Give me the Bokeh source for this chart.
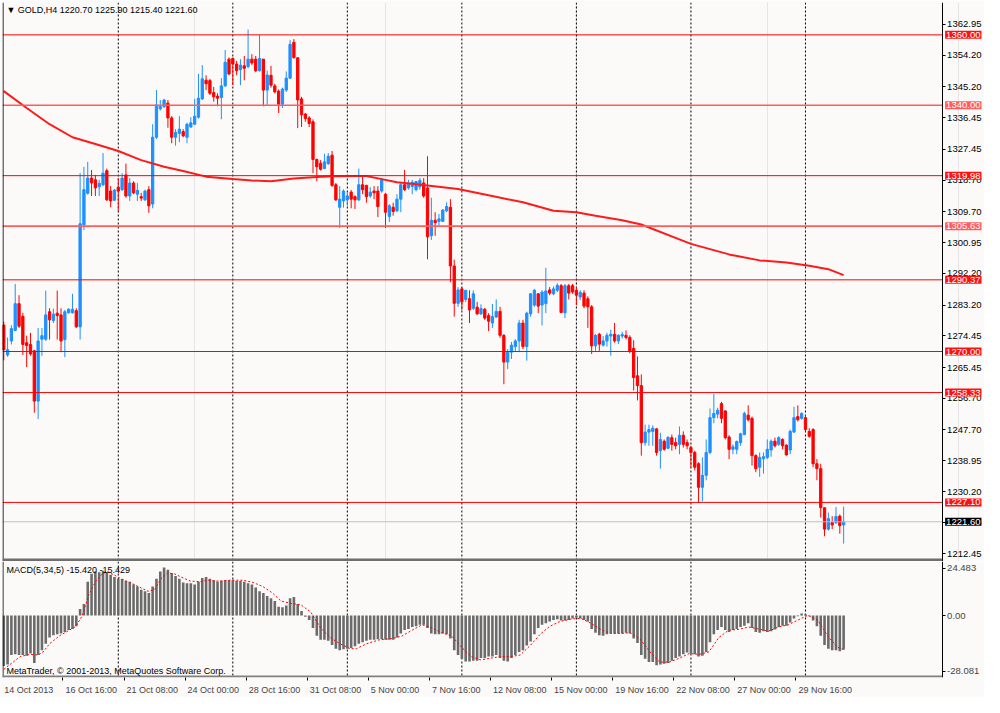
from bokeh.plotting import figure
from bokeh.layouts import column
from bokeh.models import (Range1d, FixedTicker, PrintfTickFormatter, Span, Label,
                          BoxAnnotation, ColumnDataSource, CustomJSTickFormatter, AllLabels)
from bokeh.embed import file_html
from bokeh.resources import INLINE

# ---------------- data ----------------
header_text = "\u25bc GOLD,H4  1220.70 1225.90 1215.40 1221.60"
macd_text = "MACD(5,34,5) -15.420 -15.429"
copyright_text = "MetaTrader, \u00a9 2001-2013, MetaQuotes Software Corp."

opens = [
    1277.5, 1269.0, 1273.0, 1276.0, 1283.6, 1280.0, 1272.5, 1272.0, 1270.2, 1255.9,
    1273.5, 1273.5, 1281.3, 1278.8, 1280.9, 1280.4, 1273.4, 1281.0, 1281.0, 1281.6,
    1277.0, 1306.0, 1315.0, 1319.3, 1318.8, 1316.8, 1317.4, 1321.4, 1315.6, 1313.0,
    1316.7, 1316.0, 1320.2, 1314.2, 1317.9, 1314.7, 1314.0, 1313.1, 1316.0, 1311.9,
    1330.9, 1339.0, 1339.6, 1340.6, 1336.4, 1330.9, 1332.0, 1332.5, 1330.9, 1333.8,
    1334.6, 1336.6, 1341.8, 1347.1, 1347.0, 1343.6, 1342.6, 1342.2, 1345.5, 1353.1,
    1353.3, 1351.7, 1350.1, 1351.2, 1351.0, 1353.1, 1353.1, 1349.8, 1353.1, 1344.3,
    1348.5, 1345.5, 1344.0, 1340.3, 1344.3, 1347.7, 1357.9, 1353.5, 1341.8, 1337.5,
    1336.4, 1335.3, 1324.6, 1323.5, 1322.0, 1323.4, 1325.8, 1317.4, 1311.0, 1312.8,
    1313.1, 1315.3, 1314.0, 1313.1, 1317.4, 1317.2, 1314.2, 1315.6, 1315.6, 1315.6,
    1314.7, 1308.4, 1311.0, 1310.0, 1313.3, 1317.4, 1316.5, 1316.9, 1316.0, 1316.8,
    1317.9, 1316.5, 1302.9, 1307.3, 1307.0, 1307.0, 1310.0, 1311.0, 1294.3, 1283.7,
    1287.8, 1284.8, 1285.0, 1282.3, 1282.6, 1280.7, 1282.0, 1280.2, 1278.1, 1279.8,
    1281.4, 1274.6, 1267.0, 1269.8, 1271.4, 1273.0, 1278.1, 1271.4, 1280.7, 1283.2,
    1286.4, 1283.2, 1283.6, 1287.5, 1286.4, 1287.4, 1288.7, 1281.0, 1288.7, 1288.7,
    1287.4, 1285.5, 1286.6, 1285.0, 1282.7, 1271.6, 1274.9, 1271.8, 1273.0, 1274.4,
    1274.9, 1273.0, 1274.4, 1274.6, 1274.0, 1270.9, 1263.1, 1260.3, 1244.1, 1247.1,
    1247.3, 1248.0, 1241.8, 1244.5, 1242.5, 1245.5, 1244.1, 1243.6, 1246.2, 1244.1,
    1242.7, 1241.3, 1238.1, 1231.4, 1234.8, 1241.3, 1251.2, 1252.2, 1255.2, 1253.1,
    1245.7, 1242.2, 1242.2, 1244.1, 1246.4, 1251.9, 1251.0, 1240.4, 1237.1, 1239.5,
    1239.9, 1242.0, 1244.5, 1243.6, 1245.0, 1243.4, 1242.0, 1247.1, 1251.5, 1251.0,
    1251.2, 1247.3, 1247.8, 1238.1, 1236.7, 1225.6, 1219.5, 1221.4, 1221.3, 1223.2, 1220.7,
]
highs = [
    1278.5, 1274.0, 1277.5, 1289.2, 1286.0, 1281.0, 1274.5, 1275.3, 1270.5, 1276.7,
    1276.7, 1287.3, 1282.3, 1282.2, 1287.3, 1282.3, 1281.8, 1282.3, 1286.4, 1282.3,
    1320.7, 1322.5, 1323.9, 1321.6, 1320.2, 1318.8, 1326.4, 1322.0, 1317.0, 1316.2,
    1319.3, 1320.7, 1323.4, 1319.3, 1318.4, 1317.9, 1315.1, 1316.0, 1317.0, 1334.6,
    1344.3, 1341.5, 1341.8, 1341.5, 1336.9, 1333.2, 1336.9, 1333.2, 1335.0, 1336.6,
    1341.8, 1348.9, 1351.4, 1348.5, 1347.5, 1345.2, 1343.4, 1347.7, 1355.7, 1353.6,
    1353.6, 1352.6, 1353.1, 1354.0, 1361.5, 1354.5, 1354.0, 1360.0, 1353.1, 1349.8,
    1351.2, 1346.1, 1344.5, 1345.0, 1349.6, 1358.5, 1358.8, 1353.5, 1342.4, 1337.8,
    1336.9, 1336.0, 1324.8, 1324.4, 1326.2, 1326.4, 1327.0, 1317.9, 1317.0, 1316.1,
    1315.3, 1315.9, 1314.4, 1322.0, 1319.7, 1317.4, 1316.7, 1317.0, 1317.0, 1319.3,
    1315.1, 1311.9, 1312.3, 1314.7, 1317.9, 1321.6, 1318.8, 1318.8, 1318.5, 1319.3,
    1319.3, 1325.5, 1313.7, 1309.6, 1309.1, 1310.5, 1312.4, 1313.3, 1296.1, 1288.3,
    1288.3, 1287.5, 1287.4, 1287.4, 1284.1, 1283.4, 1282.4, 1280.9, 1283.5, 1284.8,
    1282.7, 1274.9, 1270.7, 1272.7, 1273.5, 1279.0, 1279.0, 1281.3, 1286.6, 1287.8,
    1286.6, 1287.4, 1293.8, 1288.3, 1288.5, 1289.4, 1289.2, 1289.2, 1289.2, 1289.2,
    1288.3, 1287.4, 1287.4, 1285.7, 1283.2, 1274.9, 1275.3, 1274.4, 1275.3, 1276.2,
    1278.1, 1274.9, 1275.6, 1276.0, 1274.6, 1273.2, 1268.6, 1263.5, 1249.2, 1249.2,
    1249.0, 1248.2, 1246.9, 1245.0, 1245.9, 1246.4, 1245.5, 1248.7, 1247.3, 1245.0,
    1243.2, 1241.8, 1238.5, 1239.9, 1245.0, 1253.8, 1258.0, 1254.0, 1255.7, 1253.3,
    1246.2, 1243.6, 1244.7, 1246.9, 1252.9, 1254.7, 1251.5, 1240.8, 1241.3, 1241.3,
    1245.0, 1245.0, 1245.5, 1245.9, 1245.3, 1243.6, 1247.8, 1254.3, 1254.7, 1252.7,
    1251.9, 1248.2, 1248.2, 1239.4, 1238.1, 1225.6, 1224.2, 1223.2, 1225.8, 1223.7, 1225.9,
]
lows = [
    1267.5, 1268.5, 1272.0, 1275.8, 1276.7, 1269.0, 1265.6, 1268.8, 1252.6, 1250.8,
    1268.8, 1273.0, 1273.4, 1278.1, 1273.4, 1269.8, 1268.4, 1280.8, 1280.8, 1276.7,
    1273.4, 1304.5, 1314.6, 1314.2, 1314.2, 1314.2, 1317.0, 1312.8, 1311.0, 1312.8,
    1310.0, 1315.6, 1313.7, 1312.8, 1314.7, 1312.8, 1312.8, 1312.8, 1309.4, 1310.7,
    1330.4, 1338.5, 1339.2, 1333.6, 1329.2, 1328.5, 1329.5, 1330.9, 1329.2, 1333.6,
    1334.4, 1336.2, 1341.5, 1344.3, 1342.9, 1341.0, 1339.7, 1336.0, 1345.2, 1348.5,
    1345.7, 1348.5, 1345.7, 1347.1, 1350.5, 1351.4, 1349.4, 1349.6, 1339.7, 1340.1,
    1345.0, 1343.4, 1337.8, 1339.2, 1343.8, 1347.5, 1353.3, 1333.5, 1333.8, 1335.3,
    1333.8, 1320.7, 1318.4, 1321.4, 1321.8, 1323.0, 1316.8, 1312.8, 1305.1, 1310.9,
    1311.4, 1310.7, 1310.5, 1312.8, 1314.7, 1312.3, 1313.7, 1313.3, 1308.2, 1315.1,
    1305.1, 1306.8, 1308.6, 1309.6, 1309.6, 1315.6, 1316.0, 1314.7, 1315.5, 1316.0,
    1313.7, 1296.2, 1301.7, 1302.9, 1305.4, 1306.8, 1309.6, 1289.7, 1279.9, 1282.7,
    1281.8, 1284.1, 1278.1, 1281.8, 1280.4, 1280.4, 1279.0, 1275.8, 1276.7, 1279.5,
    1273.9, 1260.7, 1265.0, 1267.9, 1270.0, 1269.8, 1270.7, 1267.4, 1279.9, 1282.7,
    1280.9, 1277.4, 1280.9, 1286.0, 1286.0, 1286.9, 1280.9, 1279.5, 1284.8, 1286.4,
    1283.2, 1284.6, 1282.3, 1276.7, 1269.3, 1270.2, 1270.2, 1271.4, 1271.4, 1268.8,
    1272.5, 1272.1, 1273.7, 1273.4, 1269.5, 1258.9, 1256.1, 1240.4, 1243.2, 1243.2,
    1243.2, 1240.4, 1236.7, 1241.8, 1242.2, 1241.8, 1242.2, 1240.8, 1242.7, 1242.2,
    1237.1, 1236.2, 1227.0, 1227.4, 1233.4, 1240.8, 1249.6, 1251.0, 1249.6, 1245.0,
    1239.4, 1240.8, 1240.8, 1243.2, 1246.2, 1250.1, 1237.6, 1235.7, 1234.4, 1235.3,
    1239.4, 1240.1, 1242.7, 1243.2, 1242.2, 1240.4, 1240.8, 1246.9, 1250.1, 1250.6,
    1247.3, 1245.5, 1237.1, 1233.4, 1222.8, 1217.5, 1219.1, 1219.5, 1221.0, 1218.2, 1215.4,
]
closes = [
    1270.5, 1270.5, 1276.5, 1283.6, 1277.2, 1272.0, 1271.7, 1269.3, 1255.9, 1273.0,
    1274.5, 1280.4, 1279.0, 1280.6, 1280.2, 1273.0, 1281.3, 1282.0, 1282.0, 1277.0,
    1306.3, 1316.0, 1319.3, 1317.9, 1316.5, 1317.8, 1320.7, 1313.1, 1312.8, 1315.9,
    1315.6, 1319.3, 1314.2, 1317.9, 1315.1, 1315.8, 1313.6, 1315.6, 1311.4, 1330.9,
    1340.1, 1339.6, 1341.5, 1336.4, 1330.9, 1332.3, 1333.2, 1331.3, 1334.6, 1335.0,
    1336.9, 1342.0, 1347.5, 1346.1, 1343.4, 1342.4, 1342.0, 1345.5, 1352.2, 1348.9,
    1351.7, 1349.8, 1351.4, 1350.5, 1353.1, 1352.0, 1349.8, 1353.3, 1344.3, 1348.6,
    1345.7, 1343.8, 1340.3, 1344.6, 1347.7, 1357.3, 1353.5, 1341.5, 1337.3, 1336.2,
    1334.8, 1324.6, 1322.5, 1321.8, 1323.9, 1325.5, 1317.2, 1313.1, 1313.3, 1315.6,
    1314.2, 1313.3, 1313.1, 1317.4, 1316.0, 1314.0, 1315.3, 1315.1, 1311.2, 1318.8,
    1309.6, 1311.4, 1309.8, 1313.3, 1317.4, 1316.0, 1317.9, 1318.1, 1318.3, 1318.6,
    1314.2, 1302.6, 1307.3, 1306.6, 1307.7, 1310.2, 1311.2, 1294.3, 1283.7, 1287.5,
    1284.1, 1287.4, 1281.8, 1286.4, 1280.7, 1282.2, 1279.5, 1278.6, 1279.9, 1281.4,
    1274.6, 1267.0, 1269.8, 1271.8, 1273.0, 1278.1, 1271.4, 1280.9, 1286.4, 1287.4,
    1282.9, 1286.9, 1287.2, 1286.6, 1287.8, 1288.8, 1281.1, 1288.7, 1286.6, 1286.9,
    1286.0, 1286.8, 1282.9, 1282.7, 1271.6, 1274.6, 1272.1, 1273.0, 1274.6, 1274.9,
    1273.0, 1274.6, 1274.8, 1274.0, 1270.0, 1262.6, 1260.3, 1244.1, 1247.1, 1247.8,
    1248.2, 1241.3, 1245.0, 1242.2, 1245.6, 1243.6, 1243.2, 1246.2, 1243.6, 1243.2,
    1241.3, 1237.1, 1231.4, 1234.8, 1241.3, 1251.2, 1252.4, 1253.3, 1251.0, 1245.5,
    1242.2, 1242.9, 1244.4, 1246.6, 1252.4, 1250.6, 1240.4, 1236.7, 1239.9, 1240.1,
    1242.2, 1244.5, 1243.2, 1245.5, 1243.2, 1240.6, 1247.3, 1251.2, 1250.6, 1252.4,
    1247.8, 1245.9, 1238.1, 1236.7, 1225.6, 1219.5, 1222.5, 1220.7, 1223.1, 1220.5, 1221.6,
]

# moving average line, read at sample bars
ma_bars = [0, 6, 12, 18, 24, 30, 36, 42, 47, 53, 60, 65, 70, 76, 82, 86, 92, 95, 99,
           103, 107, 111, 119, 127, 136, 144, 150, 155, 162, 167, 180, 190, 198, 205,
           211, 216, 220]
ma_vals = [1344.0, 1339.2, 1334.6, 1330.9, 1329.0, 1327.0, 1324.4, 1322.5, 1321.3,
           1319.7, 1319.0, 1318.6, 1318.4, 1319.2, 1319.6, 1319.8, 1319.9, 1319.9,
           1319.0, 1318.1, 1317.7, 1317.2, 1316.2, 1314.4, 1312.4, 1310.0, 1309.6,
           1308.6, 1307.3, 1306.1, 1300.6, 1297.6, 1295.9, 1295.3, 1294.4, 1293.4, 1291.7]

levels = [1360.00, 1340.00, 1319.98, 1305.63, 1290.37, 1270.00, 1258.33, 1227.10]
bid_price = 1221.60

price_ticks = [1362.95, 1354.20, 1345.20, 1336.45, 1327.45, 1318.70, 1309.70, 1300.95,
               1292.20, 1283.20, 1274.45, 1265.45, 1256.70, 1247.70, 1238.95, 1230.20,
               1221.45, 1212.45]

week_bars = [30, 60, 90, 120, 150, 180, 210]
time_label_bars = [0, 16, 32, 48, 64, 80, 96, 112, 128, 144, 160, 176, 192, 208]
time_labels = ["14 Oct 2013", "16 Oct 16:00", "21 Oct 08:00", "24 Oct 00:00",
               "28 Oct 16:00", "31 Oct 08:00", "5 Nov 00:00", "7 Nov 16:00",
               "12 Nov 08:00", "15 Nov 00:00", "19 Nov 16:00", "22 Nov 08:00",
               "27 Nov 00:00", "29 Nov 16:00"]

macd_hist = [
    -22.9, -22.2, -17.9, -17.6, -17.9, -17.9, -18.2, -17.2, -21.5, -17.9,
    -15.7, -12.8, -10.0, -8.9, -8.5, -8.1, -7.5, -6.6, -6.1, -4.9,
    3.0, 5.2, 15.3, 18.9, 19.9, 19.6, 20.3, 19.6, 18.5, 17.5,
    16.5, 16.5, 15.6, 15.3, 14.1, 13.1, 11.7, 11.0, 10.2, 13.1,
    16.7, 19.9, 21.8, 20.8, 19.3, 17.9, 16.7, 15.0, 14.6, 14.6,
    14.1, 15.3, 17.0, 17.5, 16.7, 16.0, 15.3, 15.6, 16.0, 16.0,
    16.0, 15.6, 15.6, 15.3, 14.6, 14.1, 12.7, 11.0, 10.2, 8.8,
    7.8, 6.6, 4.0, 3.8, 4.5, 7.8, 8.4, 5.2, 2.0, -0.6,
    -2.0, -5.6, -9.2, -11.0, -11.0, -11.4, -13.3, -15.0, -15.7, -15.3,
    -15.0, -14.7, -13.9, -12.8, -12.1, -11.4, -11.0, -11.0, -10.7, -10.7,
    -11.0, -11.0, -11.0, -10.0, -8.1, -6.6, -6.1, -5.2, -4.9, -4.2,
    -4.2, -5.6, -8.1, -8.5, -8.5, -8.1, -8.5, -10.4, -15.7, -17.9,
    -19.6, -20.8, -20.8, -20.5, -20.5, -19.3, -19.3, -18.6, -18.6, -17.9,
    -19.3, -20.5, -20.8, -19.3, -17.9, -16.5, -15.7, -13.6, -11.8, -8.5,
    -5.6, -4.2, -3.5, -2.7, -2.0, -1.7, -2.3, -2.3, -2.0, -1.3,
    -1.0, -1.3, -2.0, -2.7, -6.1, -7.8, -8.9, -9.2, -8.5, -8.1,
    -8.1, -8.1, -8.1, -7.8, -8.1, -10.4, -12.4, -17.9, -19.6, -21.1,
    -21.1, -22.5, -22.2, -21.9, -21.5, -20.5, -19.3, -18.6, -17.6, -16.7,
    -17.2, -17.6, -18.6, -18.2, -16.5, -12.1, -8.5, -6.6, -5.2, -6.6,
    -7.5, -6.6, -6.1, -5.2, -4.6, -3.5, -5.6, -7.5, -7.8, -7.1,
    -7.5, -7.1, -6.3, -5.2, -4.6, -4.6, -3.2, -1.3, -0.3, 0.9,
    0.6, -0.3, -2.3, -4.9, -9.2, -13.3, -15.0, -15.7, -15.7, -16.2, -15.42,
]
signal_bars = [0, 4.3, 6.9, 9, 10.3, 12, 14.6, 16.3, 18.9, 20.6, 22.3, 24, 25.8, 27, 28.8,
               30.9, 33.5, 36.1, 37.8, 39.5, 41.2, 42.9, 44.7, 46.4, 48.9, 51.5, 53.3,
               55.9, 59.3, 62.7, 65.3, 67.9, 70.4, 72.6, 75.2, 77.8, 80.4, 83, 85.5,
               88.1, 90.7, 92.4, 95, 98.4, 101.8, 104.4, 107, 109.6, 112.1, 114.7,
               117.3, 119.9, 122.4, 125, 127.6, 130.2, 132.7, 135.3, 137.9, 140.5, 143,
               145.7, 148.6, 151.2, 153.8, 156.4, 158.9, 161.5, 164.1, 166.7, 169.3,
               171.8, 174.4, 177, 179.6, 182.2, 184.7, 187.3, 189.9, 192.5, 195.1,
               197.7, 200.3, 202.9, 205.5, 208.1, 210.6, 213.2, 215.8, 218.3, 220]
signal_vals = [-24.4, -18.6, -17.6, -17.9, -16.5, -12.8, -9.2, -7.5, -4.9, 0.1, 9.5, 15.3,
               18.9, 19.9, 18.5, 16.5, 14.6, 12.4, 11.0, 11.7, 16.7, 19.3, 18.9, 17.5,
               15.6, 15.3, 16.0, 15.6, 16.0, 16.0, 15.0, 13.1, 10.2, 6.6, 5.5, 4.9, 1.6,
               -5.6, -10.0, -12.8, -15.0, -15.0, -12.8, -11.0, -10.4, -9.2, -6.6, -4.2,
               -5.6, -7.8, -9.2, -14.3, -18.6, -20.1, -19.3, -18.6, -18.6, -17.9, -13.6,
               -8.5, -4.9, -2.7, -1.6, -1.3, -3.5, -6.3, -8.1, -8.1, -7.8, -10.7, -16.5,
               -21.1, -21.1, -19.3, -17.2, -17.6, -16.5, -10.0, -6.6, -6.3, -5.2, -6.1,
               -7.1, -5.2, -4.2, -2.0, 0.1, -2.0, -9.2, -14.3, -15.429]
macd_max, macd_min = 24.483, -28.081

# ---------------- styling / layout ----------------
BG = "#fcfaf9"
BULL = "#1e90ff"
BEAR = "#ff0000"
FONT = "Liberation Sans"
W, H = 984, 697
H1 = 561
H2 = H - H1
BORDER_L = 2
X0 = -0.33        # left frame edge (bar units)
X_AX = 245.8      # position of the price scale (right edge of the chart area)
X_END = 256.9     # right edge of the window
P_LO, P_HI = 1210.31, 1369.20
SEP_TOP = 1211.14

frame_w = W - BORDER_L
bars_per_px = (X_END - X0) / frame_w
x_range = Range1d(X0, X_END)

n = len(opens)
idx = list(range(n))
colors = [BULL if c >= o else BEAR for o, c in zip(opens, closes)]
src = ColumnDataSource(dict(
    x=idx, o=opens, h=highs, l=lows, c=closes, color=colors,
    top=[max(o, c) for o, c in zip(opens, closes)],
    bottom=[min(o, c) for o, c in zip(opens, closes)],
))

# ---- price panel ----
p1 = figure(width=W, height=H1, x_range=x_range, y_range=Range1d(P_LO, P_HI),
            output_backend="svg", toolbar_location=None,
            y_axis_location="right", x_axis_location=None,
            min_border_left=BORDER_L, min_border_right=0,
            min_border_top=2, min_border_bottom=0)
p1.background_fill_color = BG
p1.border_fill_color = BG
p1.outline_line_color = None
p1.ygrid.visible = False

for b in week_bars:
    p1.add_layout(Span(location=b, dimension="height", line_color="black",
                       line_dash="2 2", line_width=1, level="underlay"))
p1.add_layout(Span(location=X0 + 0.5 * bars_per_px, dimension="height",
                   line_color="black", line_width=1))

p1.segment(x0="x", y0="l", x1="x", y1="h", color="color", line_width=1, source=src)
p1.vbar(x="x", width=0.6, top="top", bottom="bottom", fill_color="color",
        line_color="color", line_width=1, source=src)
p1.line(ma_bars, ma_vals, line_color="#ff1a1a", line_width=2)

soft = {1340.00, 1305.63}
nl = len(levels)
hard_lv = [lv for lv in levels if lv not in soft]
soft_lv = [lv for lv in levels if lv in soft]
p1.segment(x0=[X0] * len(hard_lv), x1=[X_AX] * len(hard_lv), y0=hard_lv, y1=hard_lv,
           line_color="#ff0000", line_width=1)
p1.segment(x0=[X0] * len(soft_lv), x1=[X_AX] * len(soft_lv), y0=soft_lv, y1=soft_lv,
           line_color="#ff5c5c", line_width=1.6)
p1.segment(x0=[X0], x1=[X_AX], y0=[bid_price], y1=[bid_price],
           line_color="#c0c0c0", line_width=1)

p1.add_layout(BoxAnnotation(left=X0, right=X_AX, bottom=P_LO, top=SEP_TOP,
                            fill_color="#6e6e6e", fill_alpha=1, line_alpha=0))

ya = p1.yaxis[0]
ya.fixed_location = X_AX
ya.ticker = FixedTicker(ticks=price_ticks)
ya.formatter = PrintfTickFormatter(format="%.2f")
ya.major_label_text_font = FONT
ya.major_label_text_font_size = "9.5px"
ya.major_label_text_color = "black"
ya.major_tick_out = 3
ya.major_tick_in = 0
ya.minor_tick_out = 0
ya.minor_tick_in = 0
ya.major_label_standoff = 2
ya.axis_line_color = "black"
ya.major_tick_line_color = "black"
ya.major_label_policy = AllLabels()

for lv in levels + [bid_price]:
    if lv == bid_price:
        bg = "black"
    elif lv in soft:
        bg = "#ff5c5c"
    else:
        bg = "#ff1010"
    p1.add_layout(Label(x=X_AX, y=lv, x_offset=3, text=f"{lv:.2f}",
                        text_font=FONT, text_font_size="9.5px", text_color="white",
                        text_align="left", text_baseline="middle",
                        background_fill_color=bg, background_fill_alpha=1,
                        padding=1))

p1.add_layout(Label(x=0.7, y=1366.98, text=header_text, text_font=FONT,
                    text_font_size="9px", text_color="black",
                    text_align="left", text_baseline="middle"))

# ---- MACD panel ----
p2 = figure(width=W, height=H2, x_range=x_range, y_range=Range1d(macd_min, macd_max),
            output_backend="svg", toolbar_location=None,
            y_axis_location="right", x_axis_location="below",
            min_border_left=BORDER_L, min_border_right=0,
            min_border_top=0, min_border_bottom=17)
p2.background_fill_color = BG
p2.border_fill_color = BG
p2.outline_line_color = None
p2.xgrid.visible = False
p2.ygrid.visible = False

for b in week_bars:
    p2.add_layout(Span(location=b, dimension="height", line_color="black",
                       line_dash="2 2", line_width=1, level="underlay"))
p2.add_layout(Span(location=X0 + 0.5 * bars_per_px, dimension="height",
                   line_color="black", line_width=1))

p2.vbar(x=idx, top=macd_hist, bottom=0, width=0.68, fill_color="#6b6b6b",
        line_color=None)
p2.line(signal_bars, signal_vals, line_color="#ff0000", line_dash="2 2", line_width=1)

unit_px = (H2 - 17) / (macd_max - macd_min)
p2.add_layout(BoxAnnotation(left=X0, right=X_AX, bottom=macd_min,
                            top=macd_min + 2 / unit_px,
                            fill_color="#808080", fill_alpha=1, line_alpha=0))

p2.add_layout(Label(x=0.7, y=20.6, text=macd_text, text_font=FONT,
                    text_font_size="9px", text_color="black",
                    text_align="left", text_baseline="middle"))
p2.add_layout(Label(x=0.7, y=-25.2, text=copyright_text, text_font=FONT,
                    text_font_size="9px", text_color="black",
                    text_align="left", text_baseline="middle"))

# MACD axis: labels are drawn just inside the panel edges as in the terminal
macd_tick_pos = [macd_min + 6.5 / unit_px, 0.0, macd_max - 7.0 / unit_px]
macd_tick_txt = [f"{macd_min:.3f}", "0.00", f"{macd_max:.3f}"]
ya2 = p2.yaxis[0]
ya2.fixed_location = X_AX
ya2.ticker = FixedTicker(ticks=macd_tick_pos)
ya2.formatter = CustomJSTickFormatter(args=dict(labels=macd_tick_txt),
                                      code="return labels[index];")
ya2.major_label_text_font = FONT
ya2.major_label_text_font_size = "9.5px"
ya2.major_tick_out = 3
ya2.major_tick_in = 0
ya2.minor_tick_out = 0
ya2.minor_tick_in = 0
ya2.major_label_standoff = 2
ya2.axis_line_color = "black"
ya2.major_label_policy = AllLabels()

# time axis: label text starts just right of each tick mark
CW = {**{d: 0.556 for d in "0123456789"}, " ": 0.278, ":": 0.278, ".": 0.278,
      "O": 0.778, "N": 0.722, "c": 0.5, "t": 0.278, "o": 0.556, "v": 0.5}
def text_w(s, size):
    return sum(CW.get(ch, 0.556) for ch in s) * size

tick_pos = [b - 0.5 for b in time_label_bars]
label_pos = [t + (2.5 + text_w(s, 9) / 2) * bars_per_px for t, s in zip(tick_pos, time_labels)]

xa = p2.xaxis[0]
xa.ticker = FixedTicker(ticks=label_pos, minor_ticks=tick_pos)
xa.formatter = CustomJSTickFormatter(args=dict(labels=time_labels),
                                     code="return labels[index];")
xa.major_label_text_font = FONT
xa.major_label_text_font_size = "9px"
xa.major_tick_out = 0
xa.major_tick_in = 0
xa.minor_tick_out = 3
xa.minor_tick_in = 0
xa.minor_tick_line_color = "black"
xa.major_label_standoff = 4
xa.axis_line_color = None
xa.major_label_policy = AllLabels()

layout = column(p1, p2)
open("out.html", "w").write(file_html(layout, INLINE))
